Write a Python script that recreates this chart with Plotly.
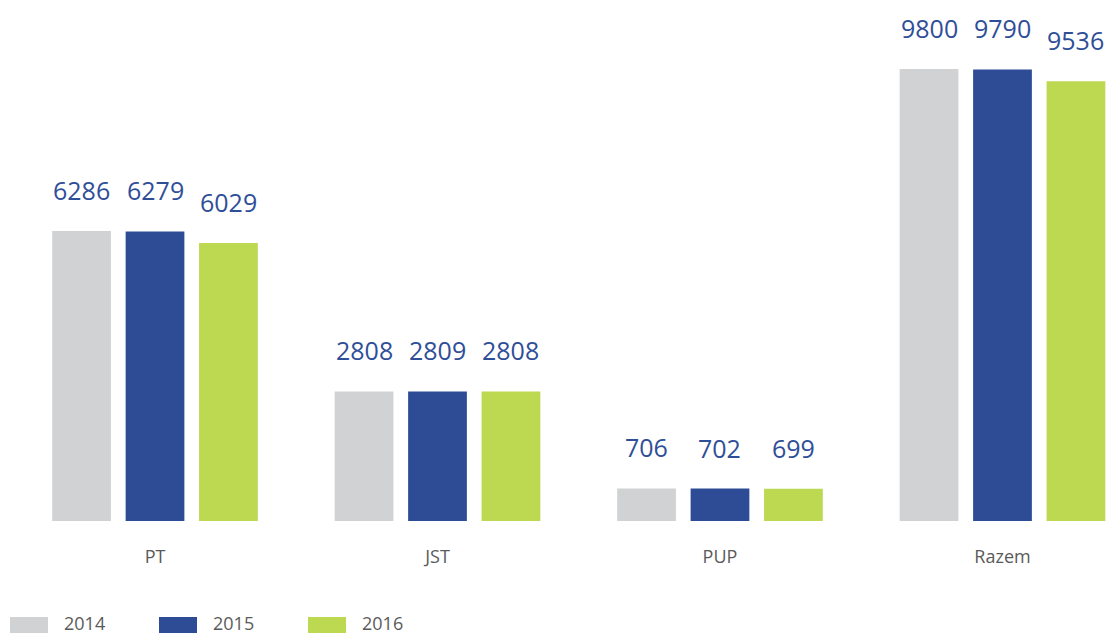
import plotly.graph_objects as go

categories = ["PT", "JST", "PUP", "Razem"]
years = ["2014", "2015", "2016"]
values_2014 = [6286, 2808, 706, 9800]
values_2015 = [6279, 2809, 702, 9790]
values_2016 = [6029, 2808, 699, 9536]

series = [values_2014, values_2015, values_2016]
colors = ["#D1D2D4", "#2E4C96", "#BDD851"]
label_color = "#2F4E98"
text_gray = "#5A5A5A"
font_family = "Open Sans, Noto Sans, sans-serif"

bargap = 0.22
bargroupgap = 0.2
n_series = len(series)
slot = (1 - bargap) / n_series

x_idx = list(range(len(categories)))

fig = go.Figure()
for name, vals, col in zip(years, series, colors):
    fig.add_trace(go.Bar(
        x=x_idx, y=vals, name=name, marker_color=col,
        marker_line_width=0, showlegend=False, hoverinfo="skip",
    ))

# value labels above each bar
annotations = []
for s, vals in enumerate(series):
    offset = (s - (n_series - 1) / 2) * slot
    for i, v in enumerate(vals):
        annotations.append(dict(
            x=i + offset, y=v, xref="x", yref="y", text=str(v),
            showarrow=False, yanchor="middle", yshift=41,
            font=dict(family=font_family, size=25, color=label_color),
        ))

# legend drawn as swatches along the bottom edge
leg_x0 = 10
leg_step = 149
for s, (name, col) in enumerate(zip(years, colors)):
    x0 = leg_x0 + s * leg_step
    fig.add_shape(type="rect", xref="paper", yref="paper",
                  x0=x0 / 1108, x1=(x0 + 38) / 1108,
                  y0=-(617 - 521) / 521, y1=-(633 - 521) / 521,
                  fillcolor=col, line_width=0)
    annotations.append(dict(
        x=(x0 + 52) / 1108, y=-(623 - 521) / 521, xref="paper", yref="paper",
        text=name, showarrow=False, xanchor="left", yanchor="middle",
        font=dict(family=font_family, size=18, color=text_gray),
    ))

fig.update_layout(
    width=1108, height=635,
    margin=dict(l=0, r=0, t=0, b=114, pad=0),
    paper_bgcolor="white", plot_bgcolor="white",
    barmode="group", bargap=bargap, bargroupgap=bargroupgap,
    showlegend=False,
    annotations=annotations,
    xaxis=dict(
        range=[-0.5487, 3.3735], tickvals=x_idx, ticktext=categories,
        showgrid=False, zeroline=False, showline=False,
        ticks="outside", ticklen=19, tickcolor="rgba(0,0,0,0)",
        tickfont=dict(family=font_family, size=18, color=text_gray),
        fixedrange=True,
    ),
    yaxis=dict(range=[0, 11296], visible=False, fixedrange=True),
)

fig.write_html("out.html")
